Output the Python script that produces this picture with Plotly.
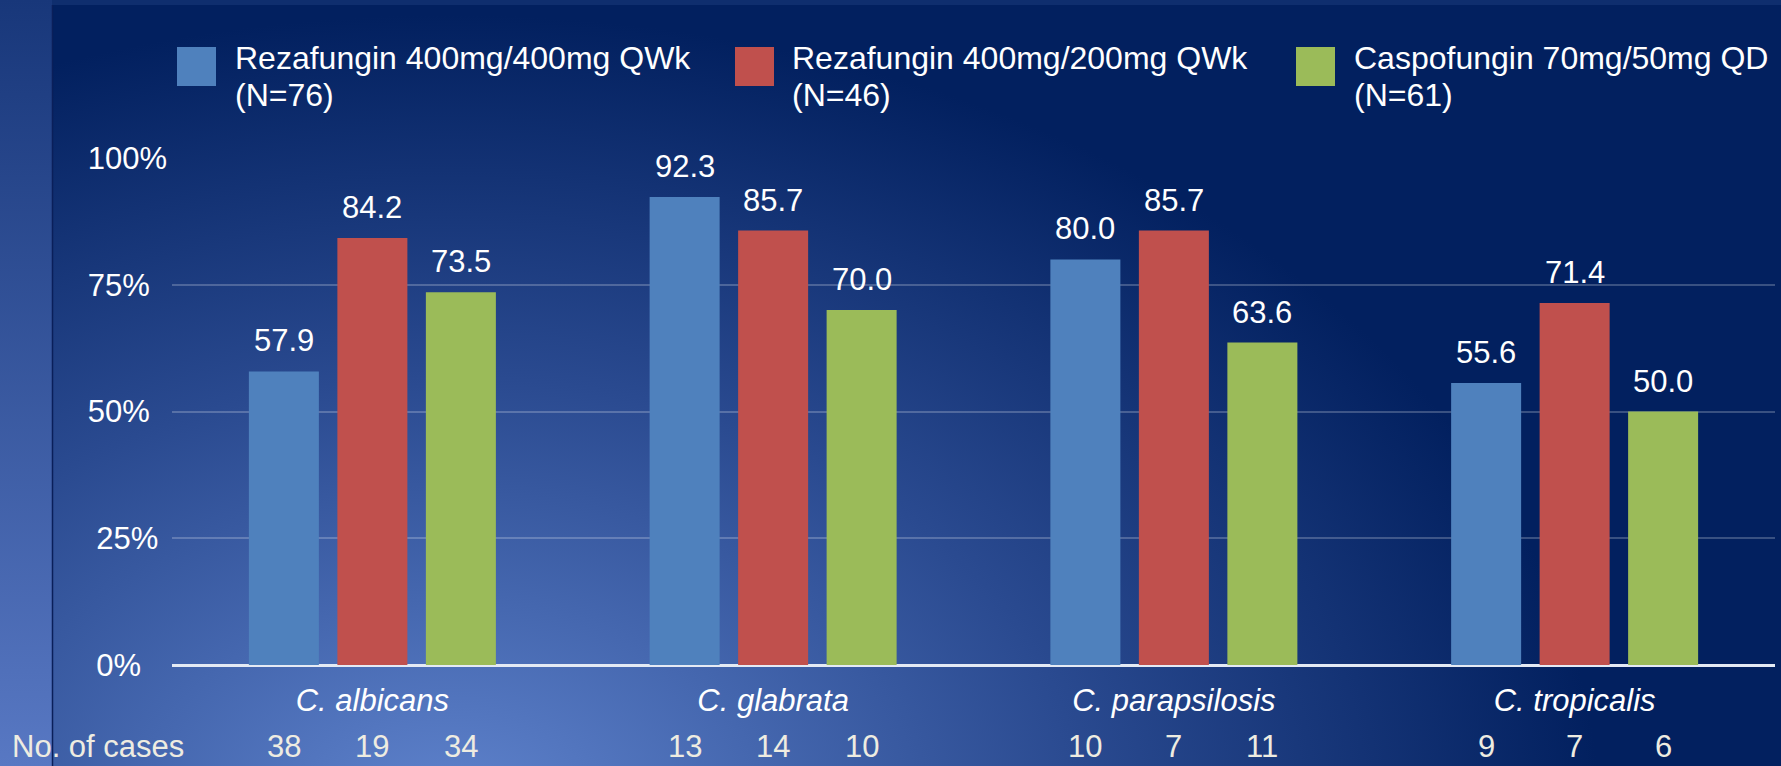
import base64
import plotly.graph_objects as go

# ---------------- data ----------------
categories = ["C. albicans", "C. glabrata", "C. parapsilosis", "C. tropicalis"]
series_names = ["Rezafungin 400mg/400mg QWk", "Rezafungin 400mg/200mg QWk", "Caspofungin 70mg/50mg QD"]
series_n = [76, 46, 61]
rate_rez400 = [57.9, 92.3, 80.0, 55.6]
rate_rez200 = [84.2, 85.7, 85.7, 71.4]
rate_caspo = [73.5, 70.0, 63.6, 50.0]
cases_rez400 = [38, 13, 10, 9]
cases_rez200 = [19, 14, 7, 7]
cases_caspo = [34, 10, 11, 6]
y_tick_values = [0, 25, 50, 75, 100]
y_tick_labels = ["0%", "25%", "50%", "75%", "100%"]
cases_row_label = "No. of cases"

# ---------------- style ----------------
colors = ["#4F81BD", "#C0504D", "#9BBB59"]
FONT = "Liberation Sans, Arial, sans-serif"
FS = 31
FS_LEG = 32
W, H = 1781, 766
L, R, T, B = 172, 6, 158, 101
PW, PH = W - L - R, H - T - B
BARGAP = 0.3375
BARGROUPGAP = 0.209
tick_pad = [3, 1, 2, 2, 0]


def px_x(x):
    return (x - L) / PW


def px_y(y):
    return (H - B - y) / PH


rates = [rate_rez400, rate_rez200, rate_caspo]
cases = [cases_rez400, cases_rez200, cases_caspo]

fig = go.Figure()
for j, name in enumerate(series_names):
    fig.add_trace(go.Bar(
        x=categories, y=rates[j], name=name,
        marker=dict(color=colors[j], line=dict(width=0)),
        showlegend=False,
        hovertemplate="%{x}: %{y:.1f}%<extra>" + name + "</extra>",
    ))

# background (gradient panel)
svg = f'''<svg xmlns="http://www.w3.org/2000/svg" width="{W}" height="{H}" viewBox="0 0 {W} {H}" preserveAspectRatio="none">
<defs>
<radialGradient id="g" gradientUnits="userSpaceOnUse" cx="450" cy="820" r="1150" gradientTransform="translate(450 820) scale(1 0.7) translate(-450 -820)">
<stop offset="0" stop-color="#6084CE"/>
<stop offset="0.55" stop-color="#2A4A90"/>
<stop offset="1" stop-color="#02205F"/>
</radialGradient>
<linearGradient id="l" x1="0" y1="0" x2="0" y2="1">
<stop offset="0" stop-color="#18377A"/><stop offset="1" stop-color="#5878C3"/>
</linearGradient>
</defs>
<rect width="{W}" height="{H}" fill="#0F2E6E"/>
<rect x="0" y="0" width="52" height="{H}" fill="url(#l)"/>
<rect x="52" y="5" width="{W-52}" height="{H-5}" fill="url(#g)"/>
<line x1="52.5" y1="5" x2="52.5" y2="{H}" stroke="#0A1F5A" stroke-width="1.5"/>
</svg>'''
src = "data:image/svg+xml;base64," + base64.b64encode(svg.encode()).decode()

annotations = []
shapes = []
slot = (1 - BARGAP) / len(series_names)
for j in range(len(series_names)):
    off = (j - (len(series_names) - 1) / 2) * slot
    for i, cat in enumerate(categories):
        annotations.append(dict(
            x=i + off, y=rates[j][i], xref="x", yref="y", text=f"{rates[j][i]:.1f}",
            showarrow=False, yanchor="bottom", xanchor="center", yshift=11,
            font=dict(family=FONT, size=FS, color="#FFFFFF")))
        annotations.append(dict(
            x=i + off, y=px_y(746), xref="x", yref="paper", text=str(cases[j][i]),
            showarrow=False, yanchor="middle", xanchor="center",
            font=dict(family=FONT, size=FS, color="#EEECE1")))

annotations.append(dict(
    x=px_x(10), y=px_y(746), xref="paper", yref="paper", text=cases_row_label,
    showarrow=False, yanchor="middle", xanchor="left",
    font=dict(family=FONT, size=FS, color="#EEECE1")))

# custom legend
sw_x = [177, 735, 1296]
tx_x = [233, 790, 1352]
for j, name in enumerate(series_names):
    shapes.append(dict(type="rect", xref="paper", yref="paper",
                       x0=px_x(sw_x[j]), x1=px_x(sw_x[j] + 39),
                       y0=px_y(86), y1=px_y(47),
                       fillcolor=colors[j], line=dict(width=0)))
    annotations.append(dict(
        x=px_x(tx_x[j]), y=px_y(58), xref="paper", yref="paper", text=name,
        showarrow=False, yanchor="middle", xanchor="left",
        font=dict(family=FONT, size=FS_LEG, color="#FFFFFF")))
    annotations.append(dict(
        x=px_x(tx_x[j]), y=px_y(95), xref="paper", yref="paper", text=f"(N={series_n[j]})",
        showarrow=False, yanchor="middle", xanchor="left",
        font=dict(family=FONT, size=FS_LEG, color="#FFFFFF")))

fig.update_layout(
    width=W, height=H, autosize=False,
    margin=dict(l=L, r=R, t=T, b=B, pad=0, autoexpand=False),
    paper_bgcolor="#0B2A68", plot_bgcolor="rgba(0,0,0,0)",
    barmode="group", bargap=BARGAP, bargroupgap=BARGROUPGAP,
    font=dict(family=FONT, size=FS, color="#FFFFFF"),
    images=[dict(source=src, xref="paper", yref="paper",
                 x=px_x(0), y=px_y(0), sizex=W / PW, sizey=H / PH,
                 xanchor="left", yanchor="top", sizing="stretch", layer="below")],
    annotations=annotations, shapes=shapes,
    showlegend=False,
)
fig.update_xaxes(
    type="category", showgrid=False, showline=False, ticks="", zeroline=False,
    tickfont=dict(family=FONT, size=FS, color="#FFFFFF", style="italic"),
    ticklabelstandoff=14,
)
fig.update_yaxes(
    range=[0, 100], tickvals=y_tick_values,
    ticktext=[t + "\u00a0" * p for t, p in zip(y_tick_labels, tick_pad)],
    showgrid=True, gridcolor="rgba(255,255,255,0.22)", gridwidth=1.5,
    zeroline=True, zerolinecolor="#E4EAF4", zerolinewidth=2.5,
    showline=False, ticks="", ticklabelstandoff=4,
    tickfont=dict(family=FONT, size=FS, color="#FFFFFF"),
)

fig.write_html("out.html", config={"displayModeBar": False},
               post_script="document.body.style.margin='0';document.body.style.overflow='hidden';")
